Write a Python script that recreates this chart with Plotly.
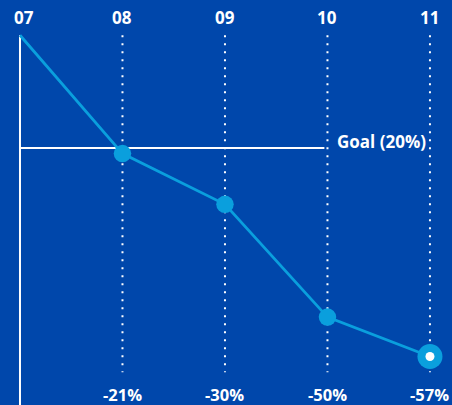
import plotly.graph_objects as go

# Reduction versus 2007 baseline
years = ["07", "08", "09", "10", "11"]
reduction = [0, -21, -30, -50, -57]
goal_value = -20
goal_label = "Goal (20%)"

BG = "#0047AB"
LINE = "#0A9FDD"
WHITE = "#FFFFFF"
FONT = "Open Sans"

xs = list(range(len(years)))

fig = go.Figure()

# vertical solid baseline at the first year
fig.add_shape(type="line", x0=0, x1=0, y0=0, y1=-70, xref="x", yref="y",
              line=dict(color=WHITE, width=2), layer="below")
# dotted guides at the following years
for x in xs[1:]:
    fig.add_shape(type="line", x0=x, x1=x, y0=0, y1=-59.8, xref="x", yref="y",
                  line=dict(color=WHITE, width=2, dash="2px,6px"), layer="below")
# goal line
fig.add_shape(type="line", x0=0, x1=2.97, y0=goal_value, y1=goal_value,
              xref="x", yref="y", line=dict(color=WHITE, width=2), layer="below")

# trend line
fig.add_trace(go.Scatter(x=xs, y=reduction, mode="lines",
                         line=dict(color=LINE, width=2.8),
                         hoverinfo="skip", cliponaxis=False))
# markers for years after baseline
fig.add_trace(go.Scatter(x=xs[1:-1], y=reduction[1:-1], mode="markers",
                         marker=dict(color=LINE, size=17.5, line=dict(width=0)),
                         hoverinfo="skip", cliponaxis=False))
# highlighted latest value
fig.add_trace(go.Scatter(x=[xs[-1]], y=[reduction[-1]], mode="markers",
                         marker=dict(color=LINE, size=25, line=dict(width=0)),
                         hoverinfo="skip", cliponaxis=False))
fig.add_trace(go.Scatter(x=[xs[-1]], y=[reduction[-1]], mode="markers",
                         marker=dict(color=WHITE, size=9, line=dict(width=0)),
                         hoverinfo="skip", cliponaxis=False))

annotations = []
for i, (x, yr) in enumerate(zip(xs, years)):
    annotations.append(dict(x=x, y=0.958, xref="x", yref="paper", text=yr,
                            showarrow=False, xanchor="center", yanchor="middle",
                            xshift=4 if i == 0 else 0,
                            font=dict(family=FONT, size=17, color=WHITE)))
for x, v in zip(xs[1:], reduction[1:]):
    annotations.append(dict(x=x, y=0.027, xref="x", yref="paper", text=f"{v}%",
                            showarrow=False, xanchor="center", yanchor="middle",
                            font=dict(family=FONT, size=16.5, color=WHITE)))
annotations.append(dict(x=3.07, y=goal_value, xref="x", yref="y", text=goal_label,
                        showarrow=False, xanchor="left", yanchor="middle",
                        yshift=6,
                        font=dict(family=FONT, size=17, color=WHITE)))

fig.update_layout(
    width=452, height=405,
    margin=dict(l=0, r=0, t=0, b=0),
    paper_bgcolor=BG, plot_bgcolor=BG,
    showlegend=False,
    xaxis=dict(range=[-0.195, 4.215], visible=False, fixedrange=True),
    yaxis=dict(range=[-65.6, 6.25], visible=False, fixedrange=True),
    annotations=annotations,
    font=dict(family=FONT, color=WHITE),
)
for a in fig.layout.annotations:
    a.font.weight = "bold"

fig.write_html("out.html")
